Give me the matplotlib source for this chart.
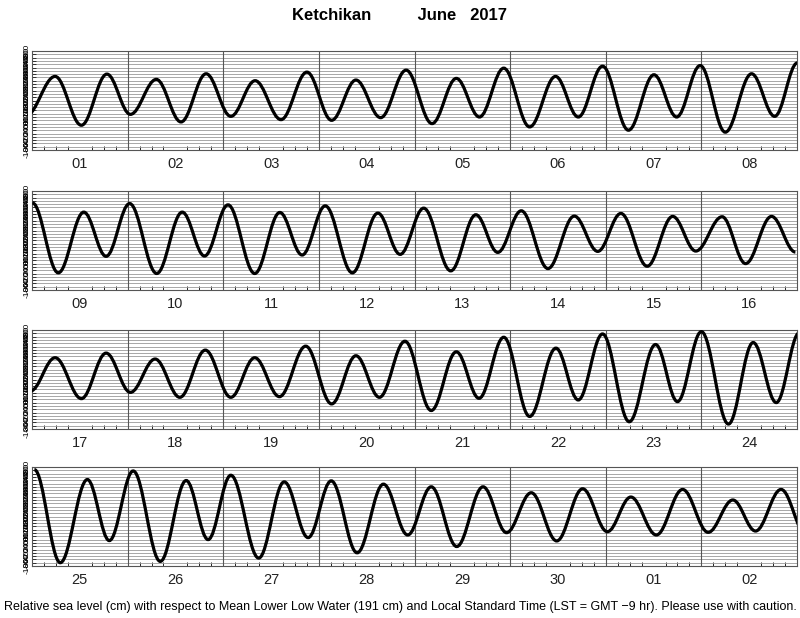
import matplotlib.pyplot as plt
import numpy as np
from matplotlib.path import Path
from matplotlib.patches import PathPatch

# high / low water turning points (hours from 1 June 00:00 LST, cm above MLLW)
hours1 = [-1.5, 5.8, 12.4, 18.8, 24.7, 31.2, 37.4, 43.7, 49.9, 56.0, 62.5, 69.0, 75.2, 81.3, 87.5, 93.9,
          100.4, 106.5, 112.3, 118.4, 124.9, 131.4, 137.1, 143.2, 149.7, 156.1, 161.8, 167.7, 174.0, 180.6,
          186.4, 192.1]
levels1 = [108, 346, 50, 360, 116, 328, 70, 362, 104, 320, 84, 372, 80, 324, 96, 384,
           60, 334, 100, 396, 40, 346, 100, 408, 20, 356, 100, 412, 8, 362, 104, 428]

hours2 = [192.1, 198.6, 205.0, 210.6, 216.5, 223.3, 229.7, 235.3, 241.2, 247.9, 254.2, 259.8, 265.6, 272.4,
          278.8, 284.4, 290.3, 297.1, 303.4, 308.9, 314.8, 321.5, 328.1, 334.0, 339.8, 346.4, 352.8, 358.6,
          365.2, 371.1, 377.6, 383.6]
levels2 = [428, 4, 372, 104, 424, 0, 372, 106, 416, 0, 370, 112, 410, 4,
           366, 116, 396, 16, 356, 128, 380, 30, 348, 134, 364, 44, 346, 136,
           344, 60, 346, 130]

hours3 = [383.6, 389.8, 396.4, 402.6, 408.7, 414.9, 421.1, 427.5, 433.9, 439.9, 446.1, 452.7, 459.2, 465.3,
          471.2, 477.6, 484.2, 490.5, 496.2, 502.4, 508.9, 515.5, 521.1, 527.2, 533.9, 540.5, 546.0, 552.0,
          558.8, 565.0, 570.8, 576.6]
levels3 = [130, 332, 84, 360, 122, 324, 92, 378, 92, 332, 96, 402, 52, 344,
           92, 432, 12, 368, 86, 456, -24, 390, 76, 476, -56, 412, 66, 490,
           -70, 424, 60, 484]

hours4 = [576.6, 583.1, 589.9, 595.4, 601.4, 608.2, 614.7, 620.2, 625.9, 632.9, 639.3, 645.3, 651.1, 657.6,
          664.2, 670.3, 676.2, 682.6, 689.2, 695.1, 701.3, 707.7, 714.2, 720.4, 726.3, 732.7, 739.3, 745.7,
          751.9, 757.6, 764.0, 770.3]
levels4 = [484, -80, 424, 54, 476, -72, 418, 60, 450, -52, 410, 72, 416, -20,
           396, 88, 380, 18, 380, 102, 344, 52, 368, 108, 318, 88, 364, 104,
           300, 112, 364, 90]

days = ['01', '02', '03', '04', '05', '06', '07', '08', '09', '10', '11', '12', '13', '14', '15', '16',
        '17', '18', '19', '20', '21', '22', '23', '24', '25', '26', '27', '28', '29', '30', '01', '02']

plt.rcParams['font.family'] = ['Liberation Sans', 'DejaVu Sans']


def tide_path(hours, levels):
    # smooth curve with flat tangents at each high and low water
    k = 1 - 2 / np.pi
    verts = [(hours[0], levels[0])]
    codes = [Path.MOVETO]
    for i in range(len(hours) - 1):
        dt = hours[i + 1] - hours[i]
        verts += [(hours[i] + k * dt, levels[i]), (hours[i + 1] - k * dt, levels[i + 1]),
                  (hours[i + 1], levels[i + 1])]
        codes += [Path.CURVE4] * 3
    return Path(verts, codes)


fig = plt.figure(figsize=(8, 6.18), dpi=100)
W, H = 800, 618
tops = [51, 191, 330, 467]
panel_h = 99
series = [(hours1, levels1), (hours2, levels2), (hours3, levels3), (hours4, levels4)]

for p in range(4):
    ax = fig.add_axes([32 / W, 1 - (tops[p] + panel_h) / H, 765 / W, panel_h / H])
    start = p * 192
    ax.set_xlim(start, start + 192)
    ax.set_ylim(-100, 500)

    yt = np.arange(-100, 501, 20)
    ax.set_yticks(yt)
    ax.set_yticklabels([str(v) for v in yt], rotation=90, fontsize=6, va='center')
    ax.tick_params(axis='y', direction='in', length=3, width=0.5, pad=1)
    ax.grid(axis='y', color='#999999', lw=0.6, zorder=1)

    for d in range(1, 8):
        ax.axvline(start + 24 * d, color='#555555', lw=0.8, zorder=2)

    ax.set_xticks(np.arange(start, start + 193, 3), minor=True)
    ax.set_xticks(start + 12 + 24 * np.arange(8))
    ax.set_xticklabels(days[p * 8:(p + 1) * 8])
    ax.tick_params(axis='x', which='major', length=0, labelsize=10.5, pad=5, labelcolor='#222222')
    ax.tick_params(axis='x', which='minor', direction='in', length=3, width=0.6)

    for s in ax.spines.values():
        s.set_color('#555555')
        s.set_linewidth(0.8)

    hrs, lev = series[p]
    ax.add_patch(PathPatch(tide_path(hrs, lev), fill=False, lw=2.3, edgecolor='black', zorder=3))

fig.text(0.5, 1 - 16 / H, 'Ketchikan          June   2017', ha='center', va='center',
         fontsize=12, fontweight='bold')
fig.text(0.5, 1 - 607 / H,
         'Relative sea level (cm) with respect to Mean Lower Low Water (191 cm) and Local Standard Time '
         '(LST = GMT \u22129 hr). Please use with caution.',
         ha='center', va='center', fontsize=9.0)

plt.savefig('out.png', dpi=100)
